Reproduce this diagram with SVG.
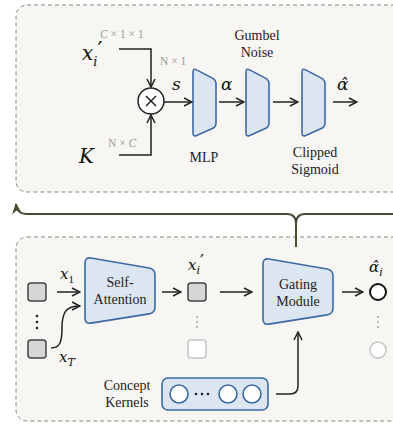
<svg xmlns="http://www.w3.org/2000/svg" width="393" height="425" viewBox="0 0 393 425">
  <style>
    .panel { fill: #f7f6f2; stroke: #8c8878; stroke-width: 1; stroke-dasharray: 4 3; }
    .block { fill: #dce6f2; stroke: #3d69a5; stroke-width: 1.6; }
    .conn { fill: none; stroke: #222; stroke-width: 1.5; }
    .lbl { font-family: "Liberation Serif", serif; fill: #222; font-size: 14px; }
    .math { font-family: "DejaVu Serif", serif; font-style: italic; fill: #111; }
    .prime { font-family: "DejaVu Sans", sans-serif; font-style: normal; }
    .dim { font-family: "Liberation Serif", serif; fill: #9a9a9a; font-size: 11.5px; }
    .tok { fill: #d6d6d6; stroke: #444; stroke-width: 1.5; }
    .tokl { fill: #fff; stroke: #c4c4c4; stroke-width: 1.5; }
    .vdots { stroke: #b8b8b8; stroke-width: 2; stroke-dasharray: 2 3; }
  </style>
  <defs>
    <marker id="arr" viewBox="0 0 10 10" refX="9" refY="5" markerWidth="10" markerHeight="10" markerUnits="userSpaceOnUse" orient="auto">
      <path d="M1,1 L9,5 L1,9" fill="none" stroke="#222" stroke-width="1.5" stroke-linejoin="miter"/>
    </marker>
    <marker id="arrOlive" viewBox="0 0 10 10" refX="9" refY="5" markerWidth="11" markerHeight="11" markerUnits="userSpaceOnUse" orient="auto">
      <path d="M0,0.5 L10,5 L0,9.5 L3,5 Z" fill="#4d4a33"/>
    </marker>
    <!-- narrow stage block (MLP / noise / sigmoid) -->
    <path id="stage" class="block" d="M193,72 Q193,68 196.6,69.9 L212.4,78.1 Q216,80 216,84 L216,123 Q216,127 212.3,128.6 L196.7,135.4 Q193,137 193,133 Z"/>
    <!-- wide module block -->
    <path id="module" class="block" d="M0,6 Q0,0 5.9,1 L64.1,11 Q70,12 70,18 L70,50 Q70,56 64.1,56.9 L5.9,66.1 Q0,67 0,61 Z"/>
  </defs>

  <!-- panels -->
  <rect id="gating-detail" class="panel" x="16" y="5" width="400" height="187" rx="11"/>
  <rect id="pipeline" class="panel" x="16" y="237" width="400" height="184" rx="11"/>

  <!-- detail nodes -->
  <g id="xi-input">
    <text class="math" x="82" y="60" font-size="20">x<tspan font-size="13" dy="6">i</tspan><tspan class="prime" font-size="22" dy="-9">′</tspan></text>
    <text class="dim" x="100" y="38"><tspan font-style="italic">C</tspan> × 1 × 1</text>
  </g>
  <g id="k-input">
    <text class="math" x="79" y="163" font-size="20">K</text>
    <text class="dim" x="108" y="147">N × <tspan font-style="italic">C</tspan></text>
  </g>
  <g id="product">
    <circle cx="151" cy="101" r="13" fill="#fff" stroke="#222" stroke-width="1.5"/>
    <path d="M146,96 L156,106 M156,96 L146,106" stroke="#222" stroke-width="1.5"/>
    <text class="dim" x="160" y="65">N × 1</text>
    <text class="math" x="172" y="90" font-size="17">s</text>
  </g>
  <g id="mlp">
    <use href="#stage"/>
    <text class="lbl" x="204" y="162" text-anchor="middle">MLP</text>
  </g>
  <g id="gumbel-noise">
    <use href="#stage" x="53"/>
    <text class="lbl" x="257" y="40" text-anchor="middle">Gumbel</text>
    <text class="lbl" x="257" y="57" text-anchor="middle">Noise</text>
  </g>
  <g id="clipped-sigmoid">
    <use href="#stage" x="109"/>
    <text class="lbl" x="315" y="157" text-anchor="middle">Clipped</text>
    <text class="lbl" x="315" y="174" text-anchor="middle">Sigmoid</text>
  </g>
  <text class="math" x="221" y="90" font-size="17">α</text>
  <text class="math" x="337" y="90" font-size="17">α̂</text>

  <!-- pipeline nodes -->
  <g id="tokens-in">
    <rect class="tok" x="28" y="283" width="18" height="18" rx="3"/>
    <rect class="tok" x="28" y="340" width="18" height="18" rx="3"/>
    <circle cx="37" cy="316" r="1.3" fill="#222"/>
    <circle cx="37" cy="322" r="1.3" fill="#222"/>
    <circle cx="37" cy="328" r="1.3" fill="#222"/>
    <text class="math" x="60" y="279" font-size="15">x<tspan font-family="Liberation Serif" font-style="normal" font-size="11" dy="4">1</tspan></text>
    <text class="math" x="59" y="362" font-size="15">x<tspan font-size="11" dy="4">T</tspan></text>
  </g>
  <g id="self-attention">
    <use href="#module" transform="translate(85,257)"/>
    <text class="lbl" x="120" y="287" text-anchor="middle">Self-</text>
    <text class="lbl" x="120" y="304" text-anchor="middle">Attention</text>
  </g>
  <g id="tokens-mid">
    <rect class="tok" x="188" y="283" width="18" height="18" rx="3"/>
    <line class="vdots" x1="197" y1="316" x2="197" y2="331"/>
    <rect class="tokl" x="188" y="340" width="18" height="18" rx="3"/>
    <text class="math" x="188" y="270" font-size="15">x<tspan font-size="11" dy="4">i</tspan><tspan class="prime" font-size="17" dy="-7">′</tspan></text>
  </g>
  <g id="gating-module">
    <use href="#module" transform="translate(263,258)"/>
    <text class="lbl" x="298" y="289" text-anchor="middle">Gating</text>
    <text class="lbl" x="298" y="306" text-anchor="middle">Module</text>
  </g>
  <g id="gates-out">
    <circle cx="378" cy="292" r="8" fill="#fff" stroke="#111" stroke-width="2"/>
    <line class="vdots" x1="378" y1="316" x2="378" y2="331"/>
    <circle cx="378" cy="350" r="8" fill="#fff" stroke="#c4c4c4" stroke-width="1.5"/>
    <text class="math" x="369" y="272" font-size="15">α̂<tspan font-size="11" dy="4">i</tspan></text>
  </g>
  <g id="concept-kernels">
    <rect class="block" x="162" y="378" width="106" height="32" rx="6"/>
    <circle cx="179" cy="394" r="9" fill="#fff" stroke="#3d69a5" stroke-width="1.6"/>
    <circle cx="228" cy="394" r="9" fill="#fff" stroke="#3d69a5" stroke-width="1.6"/>
    <circle cx="252" cy="394" r="9" fill="#fff" stroke="#3d69a5" stroke-width="1.6"/>
    <circle cx="196" cy="394" r="1.3" fill="#222"/>
    <circle cx="202" cy="394" r="1.3" fill="#222"/>
    <circle cx="208" cy="394" r="1.3" fill="#222"/>
    <text class="lbl" x="127" y="390" text-anchor="middle">Concept</text>
    <text class="lbl" x="127" y="407" text-anchor="middle">Kernels</text>
  </g>

  <!-- connectors -->
  <g id="connectors">
    <path class="conn" d="M119,49 L151,49 L151,87" marker-end="url(#arr)"/>
    <path class="conn" d="M119,155 L151,155 L151,115" marker-end="url(#arr)"/>
    <path class="conn" d="M164,102 L192,102" marker-end="url(#arr)"/>
    <path class="conn" d="M219,102 L244,102" marker-end="url(#arr)"/>
    <path class="conn" d="M273,102 L298,102" marker-end="url(#arr)"/>
    <path class="conn" d="M333,102 L357,102" marker-end="url(#arr)"/>

    <path class="conn" d="M57,292 L80,292" marker-end="url(#arr)"/>
    <path class="conn" d="M51,348 C60,348 62,342 62,328 C62,312 66,306 80,306" marker-end="url(#arr)"/>
    <path class="conn" d="M162,292 L181,292" marker-end="url(#arr)"/>
    <path class="conn" d="M220,292 L252,292" marker-end="url(#arr)"/>
    <path class="conn" d="M342,292 L363,292" marker-end="url(#arr)"/>
    <path class="conn" d="M276,394 L290,394 Q298,394 298,386 L298,332" marker-end="url(#arr)"/>

    <!-- feedback into the detail view -->
    <path d="M296,247 L296,224 Q296,214 287,214 L26,214 Q17,214 16,204" fill="none" stroke="#4d4a33" stroke-width="2" marker-end="url(#arrOlive)"/>
    <path d="M296,224 Q296,214 305,214 L393,214" fill="none" stroke="#4d4a33" stroke-width="2"/>
  </g>
</svg>
